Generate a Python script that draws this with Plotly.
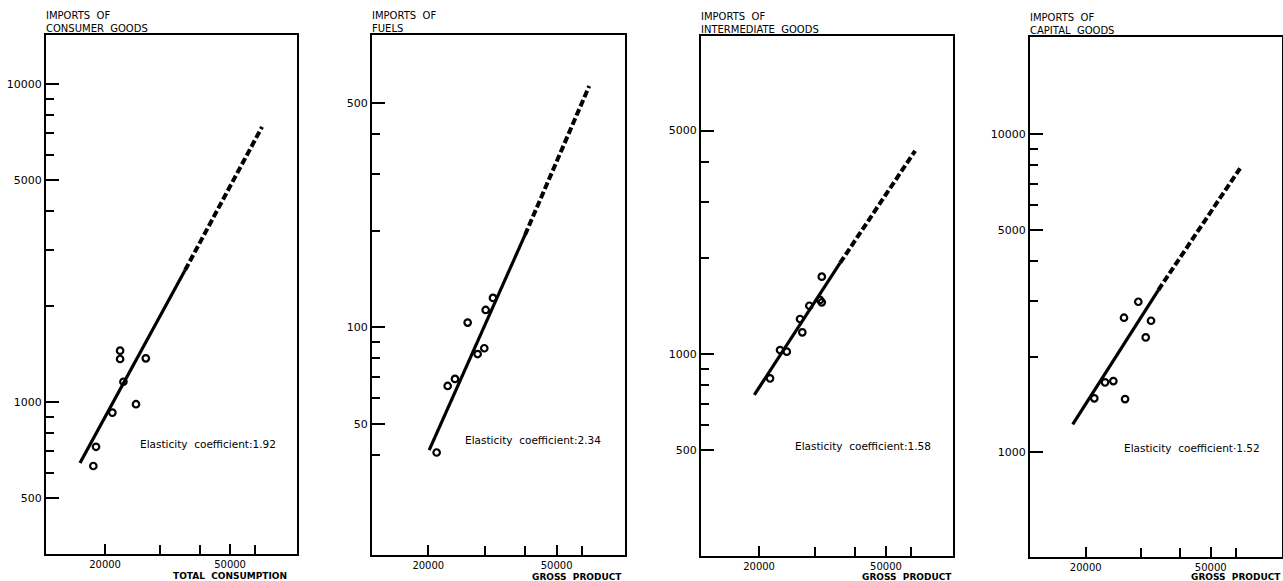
import plotly.graph_objects as go

W, H = 1283, 581

# ---------------- data ----------------
# Panel 1: imports of consumer goods vs total consumption
cons_x = [22330, 22330, 26960, 22880, 25090, 21100, 18720, 18350]
cons_y = [1450, 1365, 1372, 1158, 984, 926, 723, 629]
cons_solid_x = [16640, 35970]
cons_solid_y = [643, 2600]
cons_dash_x = [35970, 63200]
cons_dash_y = [2600, 7330]

# Panel 2: imports of fuels vs gross product
fuel_x = [26490, 21230, 22970, 24200, 28450, 29830, 30130, 31740]
fuel_y = [103.4, 40.7, 65.6, 69.0, 82.5, 86.0, 113.2, 123.4]
fuel_solid_x = [20130, 39900]
fuel_solid_y = [41.4, 194]
fuel_dash_x = [39900, 63100]
fuel_dash_y = [194, 565]

# Panel 3: imports of intermediate goods vs gross product
inter_x = [31450, 31060, 31450, 28750, 26880, 27330, 23270, 24430, 21650]
inter_y = [1746, 1476, 1451, 1416, 1287, 1169, 1029, 1017, 839]
inter_solid_x = [19330, 35900]
inter_solid_y = [745, 1928]
inter_dash_x = [35900, 61700]
inter_dash_y = [1928, 4323]

# Panel 4: imports of capital goods vs gross product
cap_x = [29410, 26480, 32280, 31050, 24490, 23040, 26690, 21300]
cap_y = [2976, 2651, 2593, 2299, 1676, 1660, 1471, 1479]
cap_solid_x = [18180, 34060]
cap_solid_y = [1225, 3239]
cap_dash_x = [34060, 62000]
cap_dash_y = [3239, 7820]

titles = ["IMPORTS  OF<br>CONSUMER  GOODS", "IMPORTS  OF<br>FUELS",
          "IMPORTS  OF<br>INTERMEDIATE  GOODS", "IMPORTS  OF<br>CAPITAL  GOODS"]
x_titles = ["TOTAL  CONSUMPTION", "GROSS  PRODUCT", "GROSS  PRODUCT", "GROSS  PRODUCT"]
elasticity_labels = ["Elasticity  coefficient:1.92", "Elasticity  coefficient:2.34",
                     "Elasticity  coefficient:1.58", "Elasticity  coefficient·1.52"]

x_major = [20000, 50000]
x_major_text = ["20000", "50000"]
x_minor = [30000, 40000, 60000]

y_major = [[500, 1000, 5000, 10000], [50, 100, 500], [500, 1000, 5000], [1000, 5000, 10000]]
y_major_text = [["500", "1000", "5000", "10000"], ["50", "100", "500"],
                ["500", "1000", "5000"], ["1000", "5000", "10000"]]
y_minor = [[600, 700, 800, 900, 2000, 3000, 4000, 6000, 7000, 8000, 9000],
           [40, 60, 70, 80, 90, 200, 300, 400],
           [600, 700, 800, 900, 2000, 3000, 4000],
           [2000, 3000, 4000, 6000, 7000, 8000, 9000]]

# ---------------- layout geometry (pixels) ----------------
boxes = [  # left, top, right, bottom
    (46, 35, 297, 554),
    (372, 35, 625, 555),
    (701, 36, 953, 556),
    (1030, 37, 1282, 556.7),
]
x_ranges = [[4.113, 4.912], [4.1265, 4.911], [4.119, 4.909], [4.1236, 4.926]]
y_ranges = [[2.522, 4.154], [1.290, 2.911], [2.368, 3.995], [2.672, 4.306]]
text_pos = [(138, 444), (463, 440), (793, 446), (1122, 448)]
xtitle_pos = [(171, 576, "left"), (530, 576.5, "left"), (860, 576.5, "left"), (1283, 576.5, "right")]


def fx(px):
    return px / W


def fy(py):
    return 1 - py / H


panels = [
    (cons_x, cons_y, cons_solid_x, cons_solid_y, cons_dash_x, cons_dash_y),
    (fuel_x, fuel_y, fuel_solid_x, fuel_solid_y, fuel_dash_x, fuel_dash_y),
    (inter_x, inter_y, inter_solid_x, inter_solid_y, inter_dash_x, inter_dash_y),
    (cap_x, cap_y, cap_solid_x, cap_solid_y, cap_dash_x, cap_dash_y),
]

FONT = "DejaVu Sans"
fig = go.Figure()
annotations = []
layout_axes = {}

for i, (px_, py_, sx, sy, dx, dy) in enumerate(panels):
    n = i + 1
    xa = "x" if n == 1 else f"x{n}"
    ya = "y" if n == 1 else f"y{n}"
    fig.add_trace(go.Scatter(x=sx, y=sy, mode="lines", xaxis=xa, yaxis=ya,
                             line=dict(color="black", width=3.2), showlegend=False))
    fig.add_trace(go.Scatter(x=dx, y=dy, mode="lines", xaxis=xa, yaxis=ya,
                             line=dict(color="black", width=4, dash="7px,3px"), showlegend=False))
    fig.add_trace(go.Scatter(x=px_, y=py_, mode="markers", xaxis=xa, yaxis=ya,
                             marker=dict(symbol="circle-open", size=6.5, color="black",
                                         line=dict(width=2.2, color="black")),
                             showlegend=False))
    l, t, r, b = boxes[i]
    xkey = "xaxis" if n == 1 else f"xaxis{n}"
    ykey = "yaxis" if n == 1 else f"yaxis{n}"
    layout_axes[xkey] = dict(
        type="log", range=x_ranges[i], domain=[fx(l), fx(r)], anchor=ya,
        showgrid=False, zeroline=False, showline=True, mirror=True,
        linecolor="black", linewidth=2,
        tickmode="array", tickvals=x_major, ticktext=x_major_text,
        ticks="inside", ticklen=10, tickwidth=2, tickcolor="black",
        tickfont=dict(family=FONT, size=10, color="black"),
        minor=dict(tickmode="array", tickvals=x_minor, ticks="inside",
                   ticklen=9, tickwidth=2, tickcolor="black", showgrid=False),
    )
    layout_axes[ykey] = dict(
        type="log", range=y_ranges[i], domain=[fy(b), fy(t)], anchor=xa,
        showgrid=False, zeroline=False, showline=True, mirror=True,
        linecolor="black", linewidth=2,
        tickmode="array", tickvals=y_major[i], ticktext=y_major_text[i],
        ticks="inside", ticklen=13, tickwidth=2, tickcolor="black",
        tickfont=dict(family=FONT, size=11, color="black"),
        minor=dict(tickmode="array", tickvals=y_minor[i], ticks="inside",
                   ticklen=8, tickwidth=2, tickcolor="black", showgrid=False),
    )
    # panel title (y-axis label)
    annotations.append(dict(
        text=titles[i], xref="paper", yref="paper", x=fx(l - 2), y=fy(t + 1),
        xanchor="left", yanchor="bottom", showarrow=False, align="left",
        font=dict(family=FONT, size=10, color="black")))
    # x axis title
    tx, ty, anc = xtitle_pos[i]
    annotations.append(dict(
        text=f"<b>{x_titles[i]}</b>", xref="paper", yref="paper", x=fx(tx), y=fy(ty),
        xanchor=anc, yanchor="middle", showarrow=False,
        font=dict(family=FONT, size=9, color="black")))
    # elasticity label
    ex, ey = text_pos[i]
    annotations.append(dict(
        text=elasticity_labels[i], xref="paper", yref="paper", x=fx(ex), y=fy(ey),
        xanchor="left", yanchor="middle", showarrow=False,
        font=dict(family=FONT, size=10.5, color="black")))

fig.update_layout(
    width=W, height=H,
    margin=dict(l=0, r=0, t=0, b=0),
    paper_bgcolor="white", plot_bgcolor="white",
    annotations=annotations,
    **layout_axes,
)

fig.write_html("out.html", config={"displayModeBar": False},
               post_script="document.body.style.margin='0px';")
